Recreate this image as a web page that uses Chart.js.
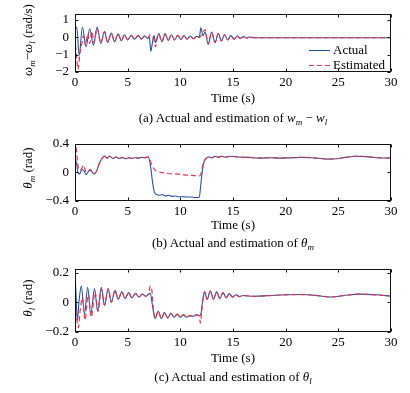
<!DOCTYPE html>
<html><head><meta charset="utf-8">
<script src="https://cdn.jsdelivr.net/npm/chart.js@4/dist/chart.umd.min.js"></script>
<style>
html,body{margin:0;padding:0;background:#fff;width:410px;height:393px;overflow:hidden}
body{position:relative;font-family:'Liberation Serif','Times New Roman',serif;color:#000}
canvas{position:absolute;left:0}
.ylab{position:absolute;white-space:nowrap;font-size:13px;line-height:13px;transform:translate(-50%,-50%) rotate(-90deg)}
.cap{position:absolute;left:233px;white-space:nowrap;font-size:13px;line-height:13px;transform:translate(-50%,-50%)}
sub{font-size:9px;vertical-align:-3px;line-height:0}
</style></head>
<body>
<canvas id="ca" width="410" height="110" style="top:0px"></canvas>
<canvas id="cb" width="410" height="109" style="top:130px"></canvas>
<canvas id="cc" width="410" height="115" style="top:255px"></canvas>
<div class="ylab" style="left:27px;top:40px"><i>ω</i><sub><i>m</i></sub>−<i>ω</i><sub><i>l</i></sub> (rad/s)</div>
<div class="ylab" style="left:27px;top:168px"><i>θ</i><sub><i>m</i></sub> (rad)</div>
<div class="ylab" style="left:27px;top:298px"><i>θ</i><sub><i>l</i></sub> (rad)</div>
<div class="cap" style="top:117px">(a) Actual and estimation of <i>w</i><sub><i>m</i></sub> − <i>w</i><sub><i>l</i></sub></div>
<div class="cap" style="top:242px">(b) Actual and estimation of <i>θ</i><sub><i>m</i></sub></div>
<div class="cap" style="top:376px">(c) Actual and estimation of <i>θ</i><sub><i>l</i></sub></div>
<script>
const seriesNames = ['Actual', 'Estimated'];
const xTitle = 'Time (s)';
const xTicks = [0, 5, 10, 15, 20, 25, 30];
const yTicksA = [-2, -1, 0, 1];
const yTicksB = [-0.4, -0.2, 0, 0.2, 0.4];
const yTicksC = [-0.2, -0.1, 0, 0.1, 0.2];

// (a) w_m - w_l
const tActA = [0,0.16,0.4,0.7,1.05,1.4,1.75,2.1,2.45,2.8,3.1,3.45,3.75,4.1,4.4,4.7,5.0,5.35,5.65,6.0,6.3,6.6,6.9,7.05,7.2,7.35,7.5,7.65,7.95,8.25,8.55,8.85,9.15,9.45,9.75,10.05,10.35,10.65,10.95,11.25,11.55,11.8,11.95,12.15,12.35,12.65,12.97,13.3,13.6,13.9,14.2,14.5,14.8,15.1,15.4,15.7,16.0,16.3,16.6,17.0,20,25,30];
const actA = [0.45,0.6,-1.05,0.6,-0.55,0.5,-0.45,0.6,-0.35,0.35,-0.3,0.25,-0.25,0.2,-0.2,0.15,-0.15,0.12,-0.1,0.1,-0.1,0.08,-0.05,0.05,-0.8,-0.3,0.1,-0.3,0.22,-0.25,0.2,-0.18,0.15,-0.15,0.12,-0.12,0.1,-0.1,0.08,-0.08,0.06,0.0,0.55,0.1,0.3,-0.4,0.3,-0.3,0.22,-0.2,0.15,-0.15,0.1,-0.1,0.07,-0.06,0.04,-0.04,0.02,-0.02,-0.02,-0.02,-0.02];
const tEstA = [0,0.1,0.3,0.45,0.62,0.8,1.0,1.2,1.4,1.6,1.8,2.1,2.45,2.8,3.1,3.45,3.75,4.1,4.4,4.7,5.0,5.35,5.65,6.0,6.3,6.6,6.9,7.1,7.3,7.5,7.65,7.8,7.95,8.25,8.55,8.85,9.15,9.45,9.75,10.05,10.35,10.65,10.95,11.25,11.55,11.8,12.0,12.35,12.65,12.97,13.3,13.6,13.9,14.2,14.5,14.8,15.1,15.4,15.7,16.0,16.3,16.6,17.0,20,25,30];
const estA = [0,-0.8,-1.85,-1.0,-0.5,0.1,-0.45,0.2,-0.35,0.35,-0.3,0.5,-0.32,0.32,-0.28,0.23,-0.23,0.18,-0.18,0.14,-0.14,0.11,-0.1,0.1,-0.09,0.08,-0.05,0.15,0.05,-0.15,-0.55,0.0,0.2,-0.25,0.2,-0.18,0.15,-0.15,0.12,-0.12,0.1,-0.1,0.08,-0.08,0.06,0.0,0.1,0.45,-0.4,0.3,-0.3,0.22,-0.2,0.15,-0.15,0.1,-0.1,0.07,-0.06,0.04,-0.04,0.02,-0.02,-0.02,-0.02,-0.02];

// (b) theta_m
const tActB = [0,0.15,0.3,0.45,0.65,0.85,1.05,1.3,1.5,1.7,1.85,2.05,2.3,2.55,2.8,3.05,3.3,3.6,3.9,4.2,4.5,4.8,5.1,5.4,5.7,6.0,6.3,6.6,6.95,7.1,7.25,7.4,7.55,7.75,8.0,8.3,8.6,8.9,9.2,9.5,9.8,10.2,10.6,11.0,11.4,11.8,11.92,12.05,12.2,12.4,12.7,13.0,13.3,13.6,13.9,14.3,14.8,15.5,16.5,17.5,18.5,19.5,20.5,21.5,22.5,23.3,24.0,24.8,25.7,26.7,27.7,28.7,30];
const actB = [0.2,0.12,-0.01,-0.02,0.04,0.02,-0.03,0.02,0.035,-0.01,-0.02,0.02,0.12,0.19,0.23,0.2,0.225,0.195,0.215,0.195,0.21,0.19,0.205,0.195,0.205,0.2,0.21,0.205,0.215,0.15,0.0,-0.18,-0.28,-0.31,-0.32,-0.31,-0.33,-0.32,-0.335,-0.33,-0.34,-0.34,-0.345,-0.345,-0.35,-0.35,-0.2,-0.03,0.12,0.19,0.215,0.205,0.225,0.21,0.225,0.215,0.225,0.215,0.21,0.2,0.205,0.2,0.205,0.21,0.205,0.195,0.185,0.19,0.21,0.225,0.22,0.205,0.2];
const tEstB = [0,0.1,0.2,0.35,0.5,0.65,0.8,1.0,1.2,1.4,1.6,1.85,2.05,2.3,2.55,2.8,3.05,3.3,3.6,3.9,4.2,4.5,4.8,5.1,5.4,5.7,6.0,6.3,6.6,6.95,7.1,7.3,7.5,7.7,8.0,8.4,8.8,9.3,9.8,10.3,10.8,11.3,11.8,11.95,12.1,12.25,12.4,12.7,13.0,13.3,13.6,13.9,14.3,14.8,15.5,16.5,17.5,18.5,19.5,20.5,21.5,22.5,23.3,24.0,24.8,25.7,26.7,27.7,28.7,30];
const estB = [0.24,0.35,0.2,0.05,0.03,0.06,0.1,0.02,0.0,0.04,0.0,-0.015,0.02,0.12,0.19,0.23,0.2,0.225,0.195,0.215,0.195,0.21,0.19,0.205,0.195,0.205,0.2,0.21,0.205,0.215,0.18,0.1,0.05,0.02,0.005,-0.005,-0.015,-0.02,-0.025,-0.035,-0.04,-0.045,-0.05,-0.02,0.08,0.15,0.19,0.215,0.205,0.225,0.21,0.225,0.215,0.225,0.215,0.21,0.2,0.205,0.2,0.205,0.21,0.205,0.195,0.185,0.19,0.21,0.225,0.22,0.205,0.2];

// (c) theta_l
const tActC = [0,0.1,0.22,0.4,0.6,0.9,1.2,1.5,1.85,2.15,2.5,2.8,3.15,3.45,3.8,4.1,4.45,4.75,5.1,5.4,5.75,6.05,6.4,6.7,7.0,7.15,7.35,7.6,7.9,8.2,8.5,8.8,9.1,9.4,9.7,10.0,10.3,10.6,10.9,11.2,11.5,11.8,11.95,12.1,12.3,12.55,12.85,13.15,13.45,13.75,14.05,14.35,14.65,14.95,15.3,15.6,16.0,17,18.5,20,21.5,23,24.2,25.5,27,28.5,30];
const actC = [0.2,0.05,-0.12,0.02,0.11,-0.08,0.1,-0.08,0.09,-0.06,0.1,-0.02,0.09,0.0,0.08,0.02,0.07,0.025,0.065,0.03,0.06,0.035,0.055,0.04,0.055,0.06,-0.02,-0.11,-0.06,-0.11,-0.07,-0.105,-0.075,-0.1,-0.08,-0.1,-0.085,-0.1,-0.09,-0.095,-0.085,-0.09,-0.08,0.0,0.07,0.02,0.075,0.02,0.07,0.025,0.065,0.03,0.058,0.035,0.05,0.038,0.045,0.04,0.045,0.05,0.052,0.045,0.035,0.045,0.055,0.05,0.042];
const tEstC = [0,0.15,0.32,0.5,0.7,0.95,1.25,1.55,1.9,2.2,2.5,2.8,3.15,3.45,3.8,4.1,4.45,4.75,5.1,5.4,5.75,6.05,6.4,6.7,7.0,7.15,7.3,7.45,7.6,7.9,8.2,8.5,8.8,9.1,9.4,9.7,10.0,10.3,10.6,10.9,11.2,11.5,11.8,11.9,12.0,12.15,12.3,12.55,12.85,13.15,13.45,13.75,14.05,14.35,14.65,14.95,15.3,15.6,16.0,17,18.5,20,21.5,23,24.2,25.5,27,28.5,30];
const estC = [0.0,-0.1,-0.17,-0.05,0.03,-0.12,0.05,-0.1,0.07,-0.06,0.09,-0.02,0.09,0.0,0.08,0.02,0.07,0.025,0.065,0.03,0.06,0.035,0.055,0.04,0.06,0.11,0.08,-0.05,-0.11,-0.06,-0.11,-0.07,-0.105,-0.075,-0.1,-0.08,-0.1,-0.085,-0.1,-0.09,-0.095,-0.085,-0.09,-0.14,-0.08,0.02,0.07,0.02,0.075,0.02,0.07,0.025,0.065,0.03,0.058,0.035,0.05,0.038,0.045,0.04,0.045,0.05,0.052,0.045,0.035,0.045,0.055,0.05,0.042];

const FONT = "'Liberation Serif', 'Times New Roman', serif";
const BLUE = '#2452a8';
const RED = '#e3364e';

const toPts = (ts, vs) => ts.map((t, i) => ({x: t, y: vs[i]}));
const fmt = v => (v < 0 ? '\u2212' + String(Math.abs(v)) : String(v));

const framePlugin = {
  id: 'frame',
  afterDraw(chart) {
    const {ctx, chartArea: a, scales: {x, y}} = chart;
    ctx.save();
    ctx.strokeStyle = '#111';
    ctx.lineWidth = 1;
    const L = Math.round(a.left) + 0.5, R = Math.round(a.right) - 0.5;
    const T = Math.round(a.top) + 0.5, B = Math.round(a.bottom) - 0.5;
    ctx.strokeRect(L, T, R - L, B - T);
    ctx.beginPath();
    x.ticks.forEach(t => {
      const p = Math.round(x.getPixelForValue(t.value)) + 0.5;
      ctx.moveTo(p, B); ctx.lineTo(p, B - 3);
      ctx.moveTo(p, T); ctx.lineTo(p, T + 3);
    });
    y.ticks.forEach(t => {
      const p = Math.round(y.getPixelForValue(t.value)) + 0.5;
      ctx.moveTo(L, p); ctx.lineTo(L + 3, p);
      ctx.moveTo(R, p); ctx.lineTo(R - 3, p);
    });
    ctx.stroke();
    ctx.restore();
  }
};

const innerLegend = {
  id: 'innerLegend',
  afterDraw(chart, args, opts) {
    if (!opts || !opts.show) return;
    const {ctx, chartArea: a} = chart;
    ctx.save();
    ctx.font = '13px ' + FONT;
    ctx.textBaseline = 'middle';
    ctx.textAlign = 'left';
    chart.data.datasets.forEach((ds, i) => {
      const yy = Math.round(a.top + 36 + i * 15) + 0.5;
      ctx.strokeStyle = ds.borderColor;
      ctx.lineWidth = ds.borderWidth;
      ctx.setLineDash(ds.borderDash || []);
      ctx.beginPath();
      ctx.moveTo(a.right - 82, yy);
      ctx.lineTo(a.right - 61, yy);
      ctx.stroke();
      ctx.setLineDash([]);
      ctx.fillStyle = '#000';
      ctx.fillText(ds.label, a.right - 58, yy);
    });
    ctx.restore();
  }
};

function makeChart(id, tAct, vAct, tEst, vEst, yMin, yMax, yTicks, titlePad, showLegend) {
  return new Chart(document.getElementById(id), {
    type: 'line',
    data: {datasets: [
      {label: seriesNames[0], data: toPts(tAct, vAct), borderColor: BLUE, borderWidth: 1.1, order: 1,
       pointRadius: 0, fill: false, cubicInterpolationMode: 'monotone'},
      {label: seriesNames[1], data: toPts(tEst, vEst), borderColor: RED, borderWidth: 1.2, order: 0,
       borderDash: [5, 3], pointRadius: 0, fill: false, cubicInterpolationMode: 'monotone'}
    ]},
    options: {
      responsive: false, animation: false, devicePixelRatio: 1,
      layout: {padding: {top: 8, right: 19, left: 0, bottom: 0}},
      plugins: {legend: {display: false}, tooltip: {enabled: false}, innerLegend: {show: showLegend}},
      scales: {
        x: {
          type: 'linear', min: 0, max: 30,
          afterBuildTicks: s => { s.ticks = xTicks.map(v => ({value: v})); },
          afterFit: s => { s.height = 38; },
          grid: {display: false, drawTicks: false, tickLength: 0}, border: {display: false},
          ticks: {font: {family: FONT, size: 13}, color: '#000', padding: 3, maxRotation: 0, autoSkip: false},
          title: {display: true, text: xTitle, font: {family: FONT, size: 13}, color: '#000',
                  padding: {top: 0, bottom: titlePad}}
        },
        y: {
          type: 'linear', min: yMin, max: yMax,
          afterBuildTicks: s => { s.ticks = yTicks.map(v => ({value: v})); },
          afterFit: s => { s.width = 75; },
          grid: {display: false, drawTicks: false, tickLength: 0}, border: {display: false},
          ticks: {font: {family: FONT, size: 13}, color: '#000', padding: 6, callback: v => fmt(v)}
        }
      }
    },
    plugins: [framePlugin, innerLegend]
  });
}

makeChart('ca', tActA, actA, tEstA, estA, -2, 1.36, yTicksA, 4, true);
makeChart('cb', tActB, actB, tEstB, estB, -0.4, 0.4, yTicksB, 6, false);
makeChart('cc', tActC, actC, tEstC, estC, -0.2, 0.225, yTicksC, 4, false);
</script>
</body></html>
